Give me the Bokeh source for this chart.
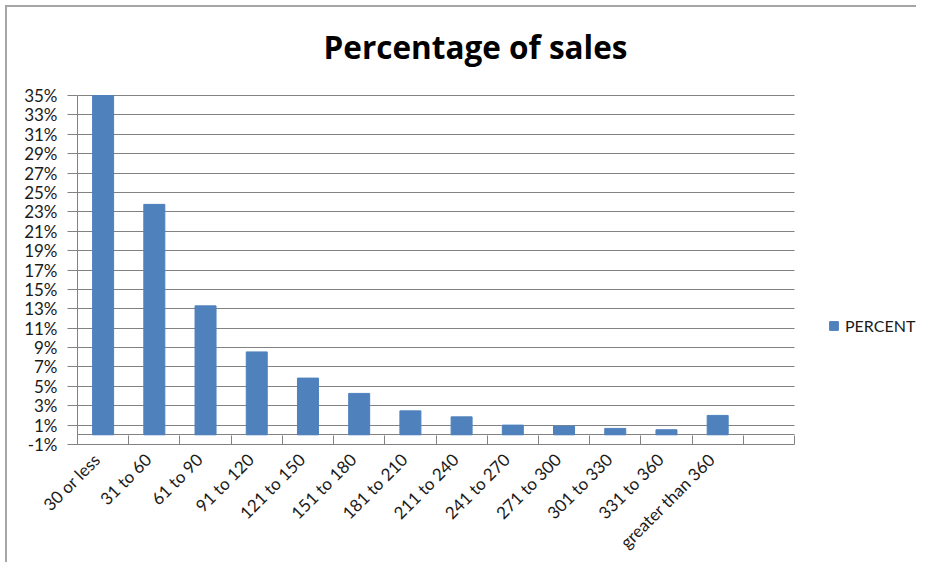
import math
from bokeh.plotting import figure
from bokeh.models import (Range1d, FixedTicker, NumeralTickFormatter, Grid, Label,
                          Legend, LegendItem, ColumnDataSource)
from bokeh.embed import file_html
from bokeh.resources import INLINE

# ---- data ----
categories = ["30 or less", "31 to 60", "61 to 90", "91 to 120", "121 to 150",
              "151 to 180", "181 to 210", "211 to 240", "241 to 270", "271 to 300",
              "301 to 330", "331 to 360", "greater than 360", ""]
percent = [0.35, 0.2377, 0.133, 0.0855, 0.0585, 0.0427, 0.0247, 0.0185,
           0.010, 0.009, 0.0066, 0.0052, 0.020]
y_ticks = [-0.01, 0.01, 0.03, 0.05, 0.07, 0.09, 0.11, 0.13, 0.15, 0.17, 0.19,
           0.21, 0.23, 0.25, 0.27, 0.29, 0.31, 0.33, 0.35]
series_name = "PERCENT"
title_text = "Percentage of sales"

FONT = "Lato"
GRID = "#828282"
BAR = "#4F81BD"

# ---- layout (pixels, relative to page) ----
OFF = 7                      # outer chart border sits ~6px in from the page corner
W, H = 918 - OFF, 564 - OFF
FRAME_L, FRAME_R_PLOT, FRAME_T_PLOT, FRAME_B = 77 - OFF, 794 - OFF, 95 - OFF, 444 - OFF
LABEL_SHIFT = -0.12          # rotated labels: upper-right corner sits at the slot centre

n_slots = len(categories)
centers = [i + 0.5 for i in range(n_slots)]
bounds = list(range(n_slots + 1))
label_pos = [c + LABEL_SHIFT for c in centers]
y0, y1 = y_ticks[0], y_ticks[-1]

px_per_x = (FRAME_R_PLOT - FRAME_L) / n_slots
px_per_y = (FRAME_B - FRAME_T_PLOT) / (y1 - y0)
x_end = (W - FRAME_L) / px_per_x
y_end = y0 + FRAME_B / px_per_y

src = ColumnDataSource(dict(x=centers[:len(percent)], top=percent))

p = figure(width=W, height=H, output_backend="svg", toolbar_location=None,
           x_range=Range1d(0, x_end), y_range=Range1d(y0, y_end),
           min_border_left=FRAME_L, min_border_right=0, min_border_top=0,
           min_border_bottom=H - FRAME_B)
p.outline_line_color = None
p.background_fill_color = "white"
p.border_fill_color = "white"
p.margin = (OFF - 2, 0, 0, OFF - 2)
p.styles = {"border-left": "2px solid #a6a6a6", "border-top": "2px solid #a6a6a6"}

# grid lines (odd percents) limited to the category area
p.xgrid.grid_line_color = None
p.ygrid.ticker = FixedTicker(ticks=y_ticks)
p.ygrid.grid_line_color = GRID
p.ygrid.grid_line_width = 1
p.ygrid.cross_bounds = (0, n_slots)

# category axis line at 0
zero_grid = Grid(dimension=1, ticker=FixedTicker(ticks=[0]), grid_line_color=GRID,
                 grid_line_width=1, cross_bounds=(0, n_slots))
p.add_layout(zero_grid)

bars = p.vbar(x="x", top="top", bottom=0, width=0.41, source=src,
              fill_color=BAR, line_color=BAR, line_width=1)

# y axis
p.yaxis.ticker = FixedTicker(ticks=y_ticks)
p.yaxis.formatter = NumeralTickFormatter(format="0%")
p.yaxis.bounds = (y0, y1)
p.yaxis.axis_line_color = GRID
p.yaxis.major_tick_line_color = GRID
p.yaxis.major_tick_out = 10
p.yaxis.major_tick_in = 0
p.yaxis.minor_tick_line_color = None
p.yaxis.major_label_standoff = 10
p.yaxis.major_label_text_font = FONT
p.yaxis.major_label_text_font_size = "17px"
p.yaxis.major_label_text_color = "#1a1a1a"

# x axis
p.xaxis.ticker = FixedTicker(ticks=label_pos, minor_ticks=bounds)
p.xaxis.bounds = (0, n_slots)
p.xaxis.major_label_overrides = {c: lab for c, lab in zip(label_pos, categories)}
p.xaxis.major_tick_line_color = None
p.xaxis.minor_tick_line_color = GRID
p.xaxis.minor_tick_in = 9
p.xaxis.minor_tick_out = 0
p.xaxis.axis_line_color = GRID
p.xaxis.major_label_orientation = math.pi / 4
p.xaxis.major_label_standoff = 6
p.xaxis.major_label_text_font = FONT
p.xaxis.major_label_text_font_size = "17px"
p.xaxis.major_label_text_color = "#1a1a1a"

# title (chart title centred over the chart area)
p.add_layout(Label(x=(475 - 77) / px_per_x, y=y0 + (444 - 46) / px_per_y,
                   text=title_text, text_align="center", text_baseline="middle",
                   text_font="Open Sans", text_font_style="bold",
                   text_font_size="31.5px", text_color="#000000"))

# legend
legend = Legend(items=[LegendItem(label=series_name, renderers=[bars])],
                location=(828 - 77, 109), padding=0, margin=0, glyph_width=11,
                glyph_height=11, label_standoff=6, label_height=11,
                label_text_font=FONT, label_text_font_size="16px",
                label_text_color="#1a1a1a", border_line_color=None,
                background_fill_alpha=0)
p.add_layout(legend, "center")

open("out.html", "w").write(file_html(p, INLINE))
